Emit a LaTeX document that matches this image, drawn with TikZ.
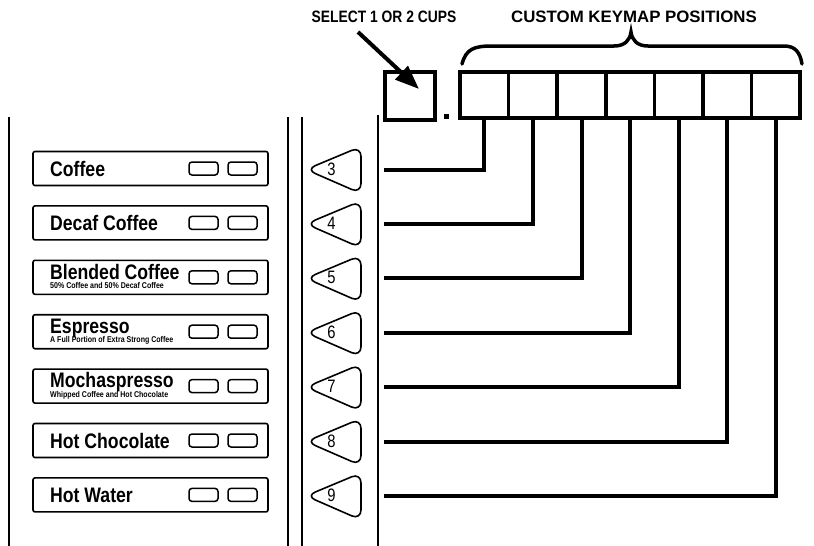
\documentclass[tikz,border=0pt]{standalone}
\usepackage{fontspec}
\setmainfont{Liberation Sans}
\newfontfamily\condb[FakeStretch=0.84]{Liberation Sans}
\newfontfamily\condn[FakeStretch=0.82]{Liberation Sans}
\newfontfamily\widec[FakeStretch=1.02]{Liberation Sans}
\usetikzlibrary{arrows.meta}
\tikzset{
  menubox/.style={draw, line width=1.6pt, rounded corners=2pt, minimum width=235pt, minimum height=34pt, inner sep=0pt},
  cupbtn/.style={draw, line width=1.5pt, rounded corners=3pt, minimum width=29pt, minimum height=13pt, inner sep=0pt},
  maintext/.style={font=\condb\bfseries\fontsize{21}{21}\selectfont, anchor=base west, inner sep=0pt},
  subtext/.style={font=\condb\bfseries\fontsize{8.4}{8.4}\selectfont, anchor=base west, inner sep=0pt},
  keybox/.style={draw, line width=3.5pt, minimum width=48.6pt, minimum height=46pt, inner sep=0pt},
  wire/.style={line width=4pt},
  rail/.style={line width=2pt},
  tributton/.style={draw, line width=1.6pt, rounded corners=10pt},
  numlbl/.style={font=\condn\fontsize{18}{18}\selectfont, inner sep=0pt},
  sellabel/.style={font=\condb\bfseries\fontsize{16.5}{16.5}\selectfont, inner sep=0pt},
  keylabel/.style={font=\widec\bfseries\fontsize{16.5}{16.5}\selectfont, inner sep=0pt},
}
\begin{document}
\begin{tikzpicture}[x=1pt,y=-1pt]
\useasboundingbox (0,0) rectangle (814,546);

% rails
\draw[rail] (9,117) -- (9,546);
\draw[rail] (288,117) -- (288,546);
\draw[rail] (302,117) -- (302,546);
\draw[rail] (378,115) -- (378,546);

% menu boxes, cup buttons, triangle buttons
\foreach \i in {0,...,6} {
  \node[menubox] (m\i) at (150.5, {168.5+54.4*\i}) {};
  \node[cupbtn] (c\i a) at (203.5, {168.5+54.4*\i}) {};
  \node[cupbtn] (c\i b) at (242.5, {168.5+54.4*\i}) {};
  \draw[tributton] (361, {146.5+54.4*\i}) -- (361, {193.5+54.4*\i}) -- (306, {169.5+54.4*\i}) -- cycle;
  \pgfmathtruncatemacro\num{\i+3}
  \node[numlbl] (n\i) at (331.5, {169+54.4*\i}) {\num};
  \coordinate (h\i) at (384, {169.5+54.4*\i});
}

% menu texts
\node[maintext] (t0) at (50, 176) {Coffee};
\node[maintext] (t1) at (50, 230.4) {Decaf Coffee};
\node[maintext] (t2) at (50, 279) {Blended Coffee};
\node[subtext]  (s2) at (50, 288.5) {50\% Coffee and 50\% Decaf Coffee};
\node[maintext] (t3) at (50, 333.4) {Espresso};
\node[subtext]  (s3) at (50, 342.9) {A Full Portion of Extra Strong Coffee};
\node[maintext] (t4) at (50, 387.8) {Mochaspresso};
\node[subtext]  (s4) at (50, 397.3) {Whipped Coffee and Hot Chocolate};
\node[maintext] (t5) at (50, 448) {Hot Chocolate};
\node[maintext] (t6) at (50, 502.4) {Hot Water};

% top: select box and keymap boxes
\node[keybox, minimum width=50pt, minimum height=48pt] (selbox) at (410, 96) {};
\node[fill, minimum size=5pt, inner sep=0pt] (dot) at (446, 116) {};
\foreach \j in {1,...,7} {
  \node[keybox] (k\j) at ({460+48.6*(\j-0.5)}, 95) {};
}

% connectors
\foreach \i in {0,...,6} {
  \pgfmathtruncatemacro\j{\i+1}
  \draw[wire] (h\i) -| (k\j.south);
}

% labels
\node[sellabel] (sellbl) at (384, 17) {SELECT 1 OR 2 CUPS};
\node[keylabel] (keylbl) at (634, 17) {CUSTOM KEYMAP POSITIONS};

% arrow
\coordinate (arrS) at (358, 32);
\coordinate (arrE) at (419, 89);
\draw[line width=4pt, -{Triangle[length=24pt,width=18pt]}] (arrS) -- (arrE);

% brace
\draw[line width=3.5pt, line cap=round]
  (462,64) .. controls (466,49) and (474,46) .. (492,46) -- (614,46)
  .. controls (625,46) and (630,40) .. (631,32)
  .. controls (632,40) and (637,46) .. (648,46) -- (784,46)
  .. controls (795,46) and (800,52) .. (802,64);
\end{tikzpicture}
\end{document}
